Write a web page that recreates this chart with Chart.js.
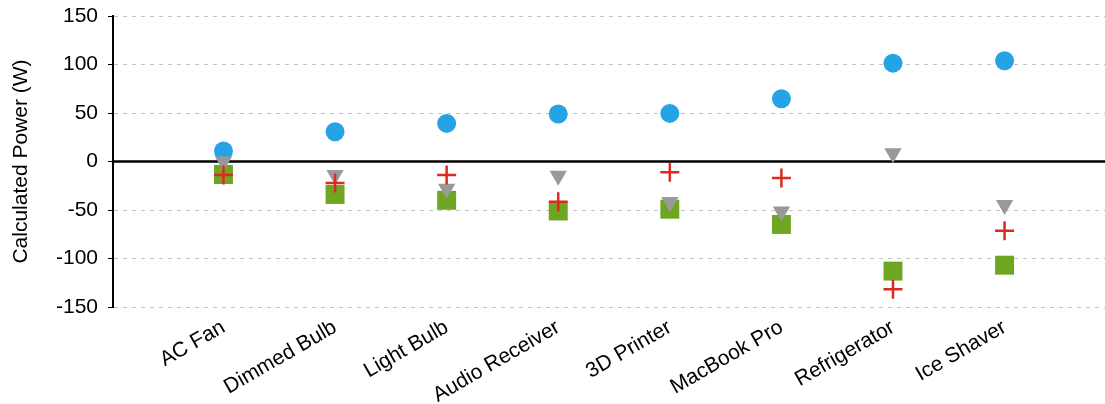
<!DOCTYPE html>
<html>
<head>
<meta charset="utf-8">
<script src="https://cdn.jsdelivr.net/npm/chart.js@4/dist/chart.umd.min.js"></script>
<style>
  html, body { margin: 0; padding: 0; background: #fff; }
  #wrap { width: 1105px; height: 404px; position: relative; }
</style>
</head>
<body>
<div id="wrap"><canvas id="powerChart"></canvas></div>
<script>
// --- dane ---
const categories = ['AC Fan', 'Dimmed Bulb', 'Light Bulb', 'Audio Receiver', '3D Printer', 'MacBook Pro', 'Refrigerator', 'Ice Shaver'];
const circleValues = [10.8, 30.7, 39.3, 48.9, 49.6, 64.7, 101.4, 103.8];
const triangleValues = [0, -14, -28, -14.6, -41.7, -51.5, 8.5, -44.8];
const crossValues = [-13.9, -22.1, -13.9, -41.4, -11.1, -17, -131.6, -71.3];
const squareValues = [-13.4, -34, -40, -51, -49.2, -64.9, -113, -106.9];
const yTicks = [-150, -100, -50, 0, 50, 100, 150];

const toPoints = (vals) => vals.map((v, i) => ({ x: i + 1, y: v }));

// czarna linia zera
const zeroLine = {
  id: 'zeroLine',
  beforeDatasetsDraw(chart) {
    const { ctx, chartArea, scales } = chart;
    const y = scales.y.getPixelForValue(0);
    ctx.save();
    ctx.strokeStyle = '#000';
    ctx.lineWidth = 2.5;
    ctx.beginPath();
    ctx.moveTo(chartArea.left, y);
    ctx.lineTo(chart.width, y);
    ctx.stroke();
    ctx.restore();
  }
};

const family = "'Liberation Sans', Arial, sans-serif";
const tickFont = { family: family, size: 21 };
const titleFont = { family: family, size: 21 };

new Chart(document.getElementById('powerChart'), {
  type: 'scatter',
  data: {
    datasets: [{
      label: 'cross',
      data: toPoints(crossValues),
      pointStyle: 'cross',
      pointRadius: 9.5,
      borderColor: 'rgb(222, 42, 30)',
      backgroundColor: 'rgb(222, 42, 30)',
      pointBorderWidth: 2.5,
      order: 0
    }, {
      label: 'triangle',
      data: toPoints(triangleValues),
      pointStyle: 'triangle',
      rotation: 180,
      pointRadius: 10,
      borderWidth: 0,
      backgroundColor: 'rgb(153, 153, 153)',
      borderColor: 'rgb(153, 153, 153)',
      order: 1
    }, {
      label: 'circle',
      data: toPoints(circleValues),
      pointStyle: 'circle',
      pointRadius: 9.5,
      borderWidth: 0,
      backgroundColor: 'rgb(38, 163, 229)',
      borderColor: 'rgb(38, 163, 229)',
      order: 2
    }, {
      label: 'square',
      data: toPoints(squareValues),
      pointStyle: 'rect',
      pointRadius: 13.4,
      borderWidth: 0,
      backgroundColor: 'rgb(110, 166, 36)',
      borderColor: 'rgb(110, 166, 36)',
      order: 3
    }]
  },
  options: {
    responsive: true,
    maintainAspectRatio: false,
    animation: false,
    layout: { autoPadding: false, padding: { top: 16, right: 0, left: 0, bottom: 0 } },
    plugins: {
      legend: { display: false },
      tooltip: { enabled: false }
    },
    scales: {
      x: {
        type: 'linear',
        min: 0.01,
        max: 8.9,
        grid: { display: false },
        border: { display: false },
        afterFit: (scale) => {
          scale.height = 97;
          scale.paddingLeft = 0;
          scale.paddingRight = 0;
        },
        afterBuildTicks: (scale) => {
          scale.ticks = categories.map((c, i) => ({ value: i + 1 }));
        },
        ticks: {
          autoSkip: false,
          maxRotation: 30,
          minRotation: 30,
          padding: 0,
          color: '#000',
          font: tickFont,
          callback: (v) => categories[v - 1] || ''
        }
      },
      y: {
        min: -150,
        max: 150,
        afterBuildTicks: (scale) => {
          scale.ticks = yTicks.map(v => ({ value: v }));
        },
        afterFit: (scale) => {
          scale.width = 113;
          scale.paddingTop = 0;
          scale.paddingBottom = 0;
        },
        grid: {
          color: '#c4c4c4',
          lineWidth: 1,
          tickColor: '#000',
          tickLength: 5
        },
        border: { display: true, color: '#000', width: 2, dash: [4, 5] },
        ticks: { color: '#000', font: tickFont, padding: 10 },
        title: {
          display: true,
          text: 'Calculated Power (W)',
          color: '#000',
          font: titleFont,
          padding: { top: 9, bottom: 4 }
        }
      }
    }
  },
  plugins: [zeroLine]
});
</script>
</body>
</html>
